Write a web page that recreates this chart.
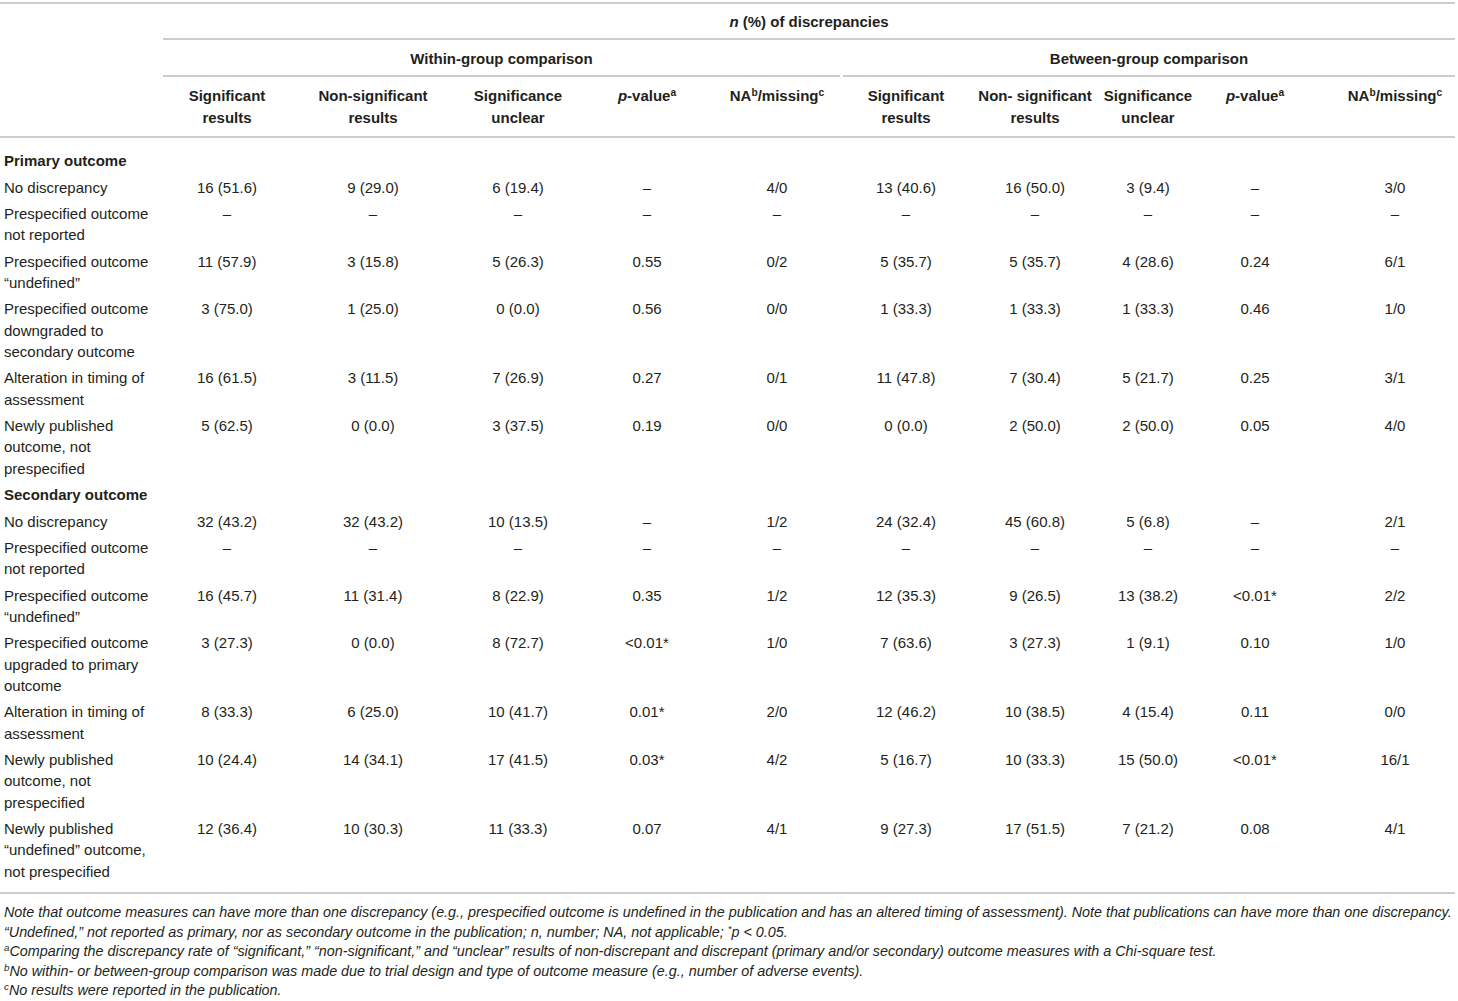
<!DOCTYPE html>
<html lang="en">
  <head>
    <meta charset="UTF-8" />
    <title>Discrepancies table</title>
    <script src="https://d3js.org/d3.v7.min.js"></script>
    <style>
      body { margin: 0; background: #fff; }
      text { font-family: "Liberation Sans", Arial, sans-serif; fill: #231f20; }
    </style>
  </head>
  <body>
    <div id="chart"></div>
  </body>
</html>

<script>
  // column keys (within / between group)
  const columns = ["wSig", "wNon", "wUnc", "wP", "wNA", "bSig", "bNon", "bUnc", "bP", "bNA"]

  // row labels
  const primaryLabels = [
    ["No discrepancy"],
    ["Prespecified outcome", "not reported"],
    ["Prespecified outcome", "\u201cundefined\u201d"],
    ["Prespecified outcome", "downgraded to", "secondary outcome"],
    ["Alteration in timing of", "assessment"],
    ["Newly published", "outcome, not", "prespecified"]
  ]
  const secondaryLabels = [
    ["No discrepancy"],
    ["Prespecified outcome", "not reported"],
    ["Prespecified outcome", "\u201cundefined\u201d"],
    ["Prespecified outcome", "upgraded to primary", "outcome"],
    ["Alteration in timing of", "assessment"],
    ["Newly published", "outcome, not", "prespecified"],
    ["Newly published", "\u201cundefined\u201d outcome,", "not prespecified"]
  ]

  // primary outcome values, one array per column
  const pWithinSig = ["16 (51.6)", "–", "11 (57.9)", "3 (75.0)", "16 (61.5)", "5 (62.5)"]
  const pWithinNon = ["9 (29.0)", "–", "3 (15.8)", "1 (25.0)", "3 (11.5)", "0 (0.0)"]
  const pWithinUnc = ["6 (19.4)", "–", "5 (26.3)", "0 (0.0)", "7 (26.9)", "3 (37.5)"]
  const pWithinP = ["–", "–", "0.55", "0.56", "0.27", "0.19"]
  const pWithinNA = ["4/0", "–", "0/2", "0/0", "0/1", "0/0"]
  const pBetweenSig = ["13 (40.6)", "–", "5 (35.7)", "1 (33.3)", "11 (47.8)", "0 (0.0)"]
  const pBetweenNon = ["16 (50.0)", "–", "5 (35.7)", "1 (33.3)", "7 (30.4)", "2 (50.0)"]
  const pBetweenUnc = ["3 (9.4)", "–", "4 (28.6)", "1 (33.3)", "5 (21.7)", "2 (50.0)"]
  const pBetweenP = ["–", "–", "0.24", "0.46", "0.25", "0.05"]
  const pBetweenNA = ["3/0", "–", "6/1", "1/0", "3/1", "4/0"]

  // secondary outcome values
  const sWithinSig = ["32 (43.2)", "–", "16 (45.7)", "3 (27.3)", "8 (33.3)", "10 (24.4)", "12 (36.4)"]
  const sWithinNon = ["32 (43.2)", "–", "11 (31.4)", "0 (0.0)", "6 (25.0)", "14 (34.1)", "10 (30.3)"]
  const sWithinUnc = ["10 (13.5)", "–", "8 (22.9)", "8 (72.7)", "10 (41.7)", "17 (41.5)", "11 (33.3)"]
  const sWithinP = ["–", "–", "0.35", "<0.01*", "0.01*", "0.03*", "0.07"]
  const sWithinNA = ["1/2", "–", "1/2", "1/0", "2/0", "4/2", "4/1"]
  const sBetweenSig = ["24 (32.4)", "–", "12 (35.3)", "7 (63.6)", "12 (46.2)", "5 (16.7)", "9 (27.3)"]
  const sBetweenNon = ["45 (60.8)", "–", "9 (26.5)", "3 (27.3)", "10 (38.5)", "10 (33.3)", "17 (51.5)"]
  const sBetweenUnc = ["5 (6.8)", "–", "13 (38.2)", "1 (9.1)", "4 (15.4)", "15 (50.0)", "7 (21.2)"]
  const sBetweenP = ["–", "–", "<0.01*", "0.10", "0.11", "<0.01*", "0.08"]
  const sBetweenNA = ["2/1", "–", "2/2", "1/0", "0/0", "16/1", "4/1"]

  // column header text: [text, style] parts per line
  const columnHeaders = [
    [[["Significant"]], [["results"]]],
    [[["Non-significant"]], [["results"]]],
    [[["Significance"]], [["unclear"]]],
    [[["p", "i"], ["-value"], ["a", "sup"]]],
    [[["NA"], ["b", "sup"], ["/missing"], ["c", "sup"]]],
    [[["Significant"]], [["results"]]],
    [[["Non- significant"]], [["results"]]],
    [[["Significance"]], [["unclear"]]],
    [[["p", "i"], ["-value"], ["a", "sup"]]],
    [[["NA"], ["b", "sup"], ["/missing"], ["c", "sup"]]]
  ]

  const footnotes = [
    [["Note that outcome measures can have more than one discrepancy (e.g., prespecified outcome is undefined in the publication and has an altered timing of assessment). Note that publications can have more than one discrepancy."]],
    [["\u201cUndefined,\u201d not reported as primary, nor as secondary outcome in the publication; n, number; NA, not applicable; "], ["*", "sup"], ["p < 0.05."]],
    [["a", "sup"], ["Comparing the discrepancy rate of \u201csignificant,\u201d \u201cnon-significant,\u201d and \u201cunclear\u201d results of non-discrepant and discrepant (primary and/or secondary) outcome measures with a Chi-square test."]],
    [["b", "sup"], ["No within- or between-group comparison was made due to trial design and type of outcome measure (e.g., number of adverse events)."]],
    [["c", "sup"], ["No results were reported in the publication."]]
  ]

  const sections = [
    {
      title: "Primary outcome",
      labels: primaryLabels,
      cols: [pWithinSig, pWithinNon, pWithinUnc, pWithinP, pWithinNA, pBetweenSig, pBetweenNon, pBetweenUnc, pBetweenP, pBetweenNA]
    },
    {
      title: "Secondary outcome",
      labels: secondaryLabels,
      cols: [sWithinSig, sWithinNon, sWithinUnc, sWithinP, sWithinNA, sBetweenSig, sBetweenNon, sBetweenUnc, sBetweenP, sBetweenNA]
    }
  ]

  const width = 1458
  const height = 1001
  const lineH = 21.3
  const rowGap = 26.4

  const svg = d3
    .select("#chart")
    .append("svg")
    .attr("width", width)
    .attr("height", height)

  // column centres
  const x = d3
    .scaleOrdinal()
    .domain(columns)
    .range([227, 373, 518, 647, 777, 906, 1035, 1148, 1255, 1395])

  // fill a text node with styled parts
  function addParts(sel, parts, baseSize) {
    parts.forEach(([t, s]) => {
      const ts = sel.append("tspan").text(t)
      if (s === "i") ts.attr("font-style", "italic")
      if (s === "sup") {
        ts.attr("font-size", baseSize * 0.68).attr("baseline-shift", "super")
      }
    })
  }

  // rules
  const rules = [
    [0, 1455, 3],
    [163, 1455, 39],
    [163, 840, 76],
    [843, 1455, 76],
    [0, 1455, 137],
    [0, 1455, 893]
  ]
  svg
    .selectAll("line.rule")
    .data(rules)
    .enter()
    .append("line")
    .attr("class", "rule")
    .attr("x1", (d) => d[0])
    .attr("x2", (d) => d[1])
    .attr("y1", (d) => d[2])
    .attr("y2", (d) => d[2])
    .attr("stroke", "#bcbcbc")
    .attr("stroke-width", 1.6)

  // spanning headers
  const topHead = svg.append("text")
    .attr("x", 809)
    .attr("y", 22)
    .attr("dy", "0.35em")
    .attr("text-anchor", "middle")
    .attr("font-size", 15)
    .attr("font-weight", "bold")
  addParts(topHead, [["n", "i"], [" (%) of discrepancies"]], 15)

  svg
    .selectAll("text.group")
    .data(["Within-group comparison", "Between-group comparison"])
    .enter()
    .append("text")
    .attr("class", "group")
    .attr("x", (d, i) => (i === 0 ? (163 + 840) / 2 : (843 + 1455) / 2))
    .attr("y", 59)
    .attr("dy", "0.35em")
    .attr("text-anchor", "middle")
    .attr("font-size", 15)
    .attr("font-weight", "bold")
    .text((d) => d)

  // column headers
  columnHeaders.forEach((lines, ci) => {
    lines.forEach((parts, li) => {
      const t = svg.append("text")
        .attr("x", x(columns[ci]))
        .attr("y", 96 + li * lineH)
        .attr("dy", "0.35em")
        .attr("text-anchor", "middle")
        .attr("font-size", 15)
        .attr("font-weight", "bold")
      addParts(t, parts, 15)
    })
  })

  // body rows
  let y = 161
  sections.forEach((sec) => {
    svg.append("text")
      .attr("x", 4)
      .attr("y", y)
      .attr("dy", "0.35em")
      .attr("font-size", 15)
      .attr("font-weight", "bold")
      .text(sec.title)
    y += rowGap
    sec.labels.forEach((lab, ri) => {
      const g = svg.append("g").attr("transform", `translate(0,${y})`)
      g.selectAll("text.label")
        .data(lab)
        .enter()
        .append("text")
        .attr("class", "label")
        .attr("x", 4)
        .attr("y", (d, i) => i * lineH)
        .attr("dy", "0.35em")
        .attr("font-size", 15)
        .text((d) => d)
      g.selectAll("text.cell")
        .data(sec.cols.map((c, ci) => ({ key: columns[ci], v: c[ri] })))
        .enter()
        .append("text")
        .attr("class", "cell")
        .attr("x", (d) => x(d.key))
        .attr("y", 0)
        .attr("dy", "0.35em")
        .attr("text-anchor", "middle")
        .attr("font-size", 15)
        .text((d) => d.v)
      y += (lab.length - 1) * lineH + rowGap
    })
  })

  // footnotes
  footnotes.forEach((parts, i) => {
    const t = svg.append("text")
      .attr("x", 4)
      .attr("y", 912 + i * 19.5)
      .attr("dy", "0.35em")
      .attr("font-size", 14.35)
      .attr("font-style", "italic")
    addParts(t, parts, 14.35)
  })
</script>
